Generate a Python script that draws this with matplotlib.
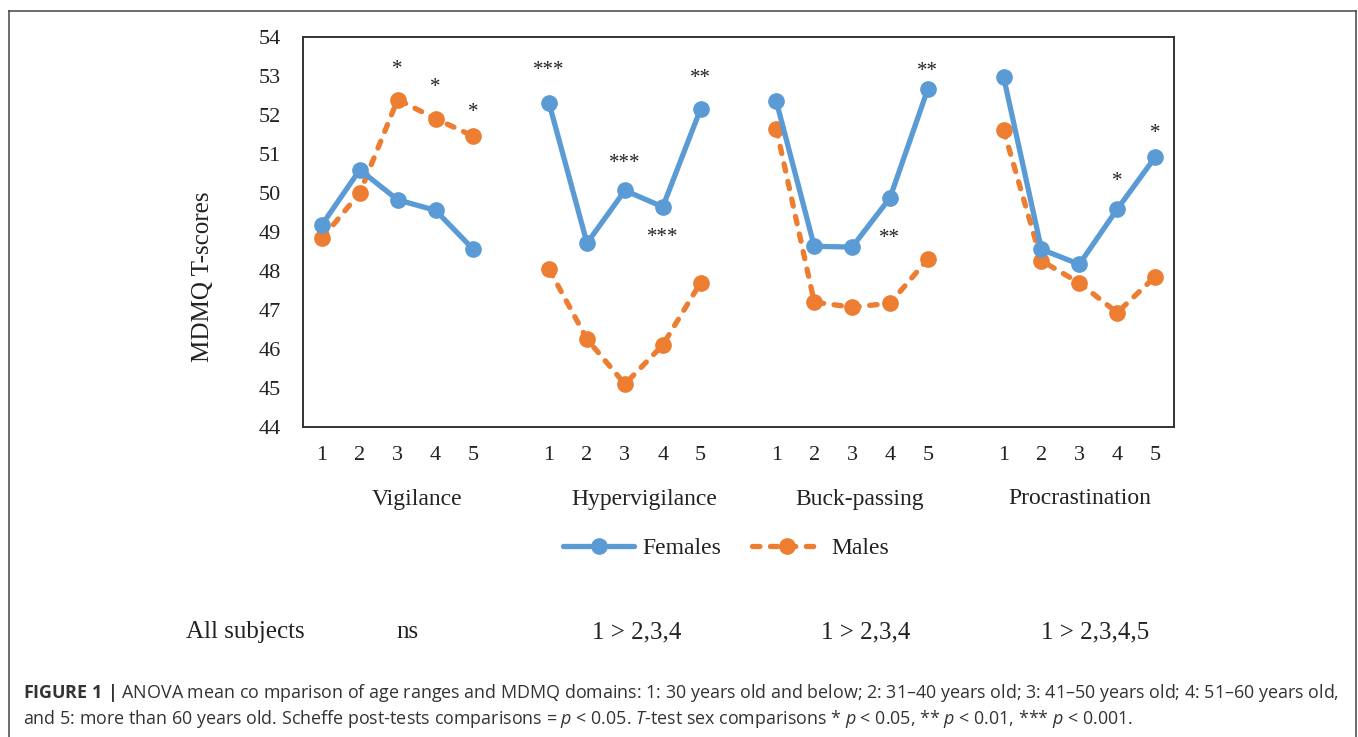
import matplotlib
matplotlib.use("Agg")
import matplotlib.pyplot as plt
from matplotlib.lines import Line2D
import numpy as np

plt.rcParams['font.family'] = ['Liberation Serif', 'DejaVu Serif']
plt.rcParams['mathtext.fontset'] = 'custom'
plt.rcParams['mathtext.rm'] = 'Open Sans'
plt.rcParams['mathtext.it'] = 'Open Sans:italic'
plt.rcParams['mathtext.bf'] = 'Open Sans:bold'

domains = ["Vigilance", "Hypervigilance", "Buck-passing", "Procrastination"]
age_ranges = ["1", "2", "3", "4", "5"]

females_vig = [49.18, 50.59, 49.82, 49.55, 48.55]
females_hyp = [52.29, 48.71, 50.06, 49.64, 52.15]
females_buck = [52.34, 48.63, 48.61, 49.87, 52.66]
females_proc = [52.97, 48.55, 48.17, 49.58, 50.91]

males_vig = [48.83, 50.00, 52.39, 51.90, 51.45]
males_hyp = [48.04, 46.25, 45.10, 46.10, 47.70]
males_buck = [51.64, 47.20, 47.07, 47.17, 48.30]
males_proc = [51.61, 48.26, 47.69, 46.93, 47.85]

# t-test markers: (domain index, age index, label, y position)
stars = [(0, 2, "*", 53.27), (0, 3, "*", 52.81), (0, 4, "*", 52.17),
         (1, 0, "***", 53.25), (1, 2, "***", 50.87), (1, 3, "***", 48.97), (1, 4, "**", 53.04),
         (2, 3, "**", 48.94), (2, 4, "**", 53.22),
         (3, 3, "*", 50.41), (3, 4, "*", 51.63)]

scheffe = ["ns", "1 > 2,3,4", "1 > 2,3,4", "1 > 2,3,4,5"]

blue = "#5B9BD5"
orange = "#ED7D31"
txt = "#222222"

fig = plt.figure(figsize=(13.58, 7.37), dpi=100)
ax = fig.add_axes([303 / 1358, 1 - 427 / 737, (1174 - 303) / 1358, (427 - 36.7) / 737])

females = [females_vig, females_hyp, females_buck, females_proc]
males = [males_vig, males_hyp, males_buck, males_proc]

for d in range(4):
    xs = np.arange(5) + d * 6
    ax.plot(xs, females[d], color=blue, lw=3.8, marker="o", ms=11,
            solid_capstyle="round", label="Females" if d == 0 else None, zorder=3)
    ax.plot(xs, males[d], color=orange, lw=3.8, marker="o", ms=11,
            linestyle=(0, (1.4, 2.0)), dash_capstyle="round",
            label="Males" if d == 0 else None, zorder=2)

for d, a, lab, y in stars:
    ax.text(d * 6 + a, y - 0.12, lab, ha="center", va="center", fontsize=15, color=txt)

ax.set_xlim(-0.5, 22.5)
ax.set_ylim(44, 54)
ax.set_yticks(range(44, 55))
ticks = [d * 6 + a for d in range(4) for a in range(5)]
ax.set_xticks(ticks)
ax.set_xticklabels(age_ranges * 4)
ax.tick_params(length=0, labelsize=16, colors=txt)
ax.tick_params(axis="y", pad=16)
ax.tick_params(axis="x", pad=14)
for s in ax.spines.values():
    s.set_color("#333333")
    s.set_linewidth(1.4)

fig.text(203 / 1358, 1 - 277 / 737, "MDMQ T-scores", rotation=90, ha="center", va="center",
         fontsize=18, color=txt)

group_x = [2.5, 8.5, 14.2, 20.0]
for gx, name in zip(group_x, domains):
    ax.text(gx, 44 - 72 / 39.03, name, ha="center", va="center", fontsize=17, color=txt)

leg = ax.legend(loc="center", bbox_to_anchor=(726 / 1358, 1 - 548 / 737),
                bbox_transform=fig.transFigure, ncol=2, frameon=False, fontsize=17,
                handlelength=3.0, columnspacing=1.3, handletextpad=0.35)
for t in leg.get_texts():
    t.set_color(txt)

# All subjects row
fig.text(245 / 1358, 1 - 632 / 737, "All subjects", ha="center", va="center", fontsize=18, color=txt)
for gx, lab in zip([407, 637, 866, 1095], scheffe):
    fig.text(gx / 1358, 1 - 632 / 737, lab, ha="center", va="center", fontsize=18, color=txt)

# caption
cap1 = (r"$\mathbf{FIGURE\ 1\ |}$ ANOVA mean co mparison of age ranges and MDMQ domains: 1: 30 years old and below; "
        r"2: 31–40 years old; 3: 41–50 years old; 4: 51–60 years old,")
cap2 = (r"and 5: more than 60 years old. Scheffe post-tests comparisons = $\mathit{p}$ < 0.05. "
        r"$\mathit{T}$-test sex comparisons * $\mathit{p}$ < 0.05, ** $\mathit{p}$ < 0.01, *** $\mathit{p}$ < 0.001.")
fig.text(23 / 1358, 1 - 693 / 737, cap1, ha="left", va="center", fontsize=12.9,
         family="Open Sans", color="#333333")
fig.text(23 / 1358, 1 - 719 / 737, cap2, ha="left", va="center", fontsize=12.9,
         family="Open Sans", color="#333333")

# outer frame
x0, x1, y0 = 8.5 / 1358, 1355.5 / 1358, 1 - 11 / 737
for xs_, ys_ in [([x0, x0], [0, y0]), ([x0, x1], [y0, y0]), ([x1, x1], [y0, 0])]:
    fig.add_artist(Line2D(xs_, ys_, transform=fig.transFigure, color="#444444", lw=1.1))

fig.savefig("out.png", dpi=100)
